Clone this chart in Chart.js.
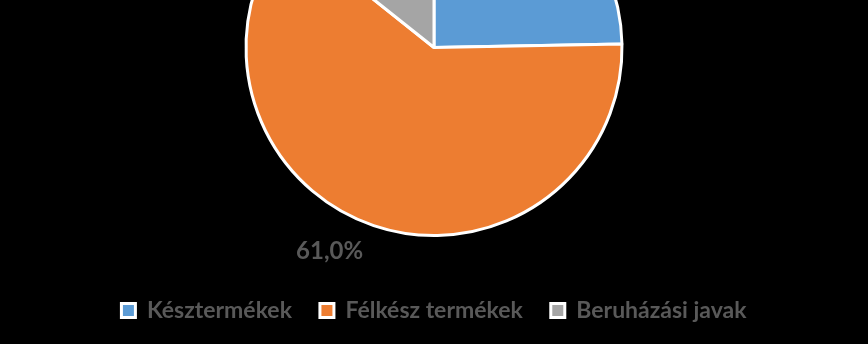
<!DOCTYPE html>
<html>
<head>
<meta charset="utf-8">
<script src="https://cdn.jsdelivr.net/npm/chart.js@4"></script>
<style>
  html, body { margin: 0; padding: 0; background: #000; }
  #frame { position: relative; width: 868px; height: 344px; overflow: hidden; background: #000; }
  #holder { position: absolute; left: 0; top: -176px; width: 868px; height: 508px; }
</style>
</head>
<body>
<div id="frame">
  <div id="holder">
    <canvas id="pieChart" width="868" height="508"></canvas>
  </div>
</div>
<script>
// Data
const categories = ['Késztermékek', 'Félkész termékek', 'Beruházási javak'];
const shares = [24.7, 61.0, 14.3];
const sliceColors = ['#5B9BD5', '#ED7D31', '#A5A5A5'];

function formatPercent(v) {
    return v.toFixed(1).replace('.', ',') + '%';
}

// Draws the percent labels just outside each slice
const outsideLabels = {
    id: 'outsideLabels',
    afterDatasetsDraw(chart) {
        const ctx = chart.ctx;
        const meta = chart.getDatasetMeta(0);
        ctx.save();
        ctx.font = 'bold 24px Lato';
        ctx.fillStyle = '#595959';
        meta.data.forEach((arc, i) => {
            const p = arc.getProps(['x', 'y', 'startAngle', 'endAngle', 'outerRadius'], true);
            const mid = (p.startAngle + p.endAngle) / 2;
            const r = p.outerRadius + 14;
            const left = Math.cos(mid) < 0;
            const cx = p.x + Math.cos(mid) * r + (left ? -6 : 6);
            const cy = p.y + Math.sin(mid) * r;
            ctx.textAlign = left ? 'right' : 'left';
            ctx.textBaseline = Math.sin(mid) > 0 ? 'top' : 'bottom';
            ctx.fillText(formatPercent(shares[i]), cx, cy);
        });
        ctx.restore();
    }
};

const ctx = document.getElementById('pieChart').getContext('2d');

new Chart(ctx, {
    type: 'pie',
    data: {
        labels: categories,
        datasets: [{
            data: shares,
            backgroundColor: sliceColors,
            borderColor: '#ffffff',
            borderWidth: 3
        }]
    },
    options: {
        responsive: false,
        animation: false,
        radius: 188,
        layout: { padding: 0 },
        plugins: {
            tooltip: { enabled: false },
            legend: {
                position: 'bottom',
                labels: {
                    color: '#595959',
                    font: { family: 'Lato', size: 23, weight: 'bold' },
                    boxWidth: 14,
                    boxHeight: 14,
                    padding: 28
                }
            }
        }
    },
    plugins: [outsideLabels]
});
</script>
</body>
</html>
